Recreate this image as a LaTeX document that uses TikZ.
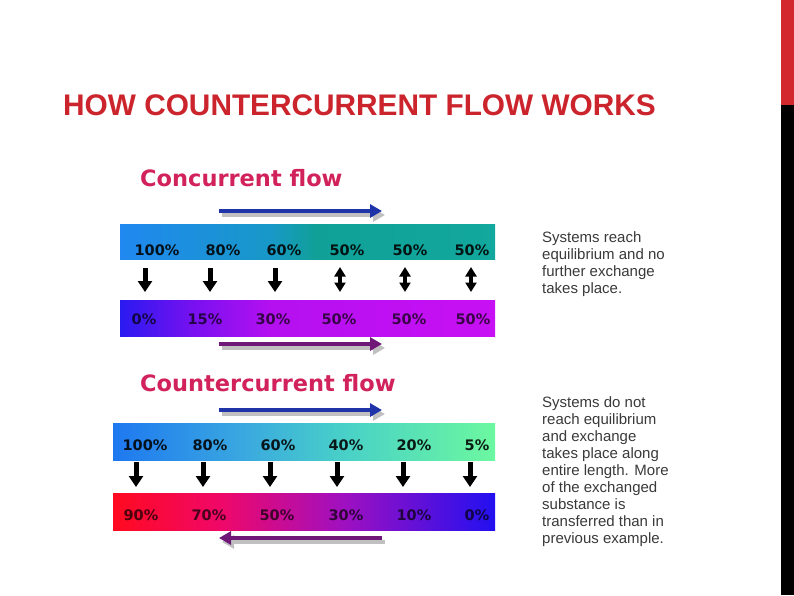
\documentclass[tikz,border=0pt]{standalone}
\usepackage{fontspec}
\setmainfont{Liberation Sans}
\newfontfamily\roundfont{DejaVu Sans}
\usepackage{xcolor}
\usepackage{tikz}
\usetikzlibrary{arrows.meta}
\definecolor{titlered}{RGB}{204, 36, 44}
\definecolor{headpink}{RGB}{210, 34, 92}
\definecolor{notegray}{RGB}{58, 58, 58}
\definecolor{flowblue}{RGB}{30, 52, 168}
\definecolor{flowpurple}{RGB}{112, 24, 120}
\definecolor{shadegray}{RGB}{192, 192, 192}
\definecolor{edgered}{RGB}{210, 40, 46}
% bar colours
\definecolor{ctA}{RGB}{32, 136, 240}
\definecolor{ctB}{RGB}{24, 152, 200}
\definecolor{ctC}{RGB}{16, 160, 152}
\definecolor{ctD}{RGB}{18, 168, 158}
\definecolor{cbA}{RGB}{42, 26, 240}
\definecolor{cbB}{RGB}{122, 16, 240}
\definecolor{cbC}{RGB}{180, 16, 240}
\definecolor{cbD}{RGB}{200, 16, 244}
\definecolor{xtA}{RGB}{30, 120, 240}
\definecolor{xtB}{RGB}{58, 168, 224}
\definecolor{xtC}{RGB}{72, 208, 200}
\definecolor{xtD}{RGB}{108, 248, 160}
\definecolor{xbA}{RGB}{255, 10, 32}
\definecolor{xbB}{RGB}{240, 8, 104}
\definecolor{xbC}{RGB}{160, 16, 192}
\definecolor{xbD}{RGB}{34, 16, 240}
\pgfdeclarehorizontalshading{concurtop}{100bp}{color(0bp)=(ctA); color(25bp)=(ctA); color(45bp)=(ctB); color(51bp)=(ctC); color(75bp)=(ctD); color(100bp)=(ctD)}
\pgfdeclarehorizontalshading{concurbot}{100bp}{color(0bp)=(cbA); color(25bp)=(cbA); color(35bp)=(cbB); color(45bp)=(cbC); color(75bp)=(cbD); color(100bp)=(cbD)}
\pgfdeclarehorizontalshading{countertop}{100bp}{color(0bp)=(xtA); color(25bp)=(xtA); color(42bp)=(xtB); color(55bp)=(xtC); color(75bp)=(xtD); color(100bp)=(xtD)}
\pgfdeclarehorizontalshading{counterbot}{100bp}{color(0bp)=(xbA); color(25bp)=(xbA); color(39bp)=(xbB); color(55bp)=(xbC); color(75bp)=(xbD); color(100bp)=(xbD)}

\begin{document}
\begin{tikzpicture}[x=1pt, y=-1pt,
    bar/.style={rectangle, inner sep=0pt, shade, minimum width=375pt, minimum height=35pt},
    pct/.style={inner sep=0pt, font=\roundfont\bfseries\fontsize{14.5}{15}\selectfont, text=black, text opacity=0.88},
    pctlow/.style={pct, text opacity=0.7},
    heading/.style={anchor=base west, inner sep=0pt, font=\roundfont\bfseries\fontsize{22.5}{24}\selectfont, text=headpink},
    note/.style={anchor=north west, inner sep=0pt, align=left, font=\fontsize{15}{17}\selectfont, text=notegray},
    drop/.style={draw=black, line width=5pt, -{Triangle[length=11pt, width=14pt]}},
    swap/.style={draw=black, line width=3.5pt, {Triangle[length=9.5pt, width=11pt]}-{Triangle[length=9.5pt, width=11pt]}},
    flow/.style={line width=4.5pt, -{Triangle[length=12pt, width=13pt]}},
    flowshade/.style={flow, draw=shadegray}]

    \useasboundingbox (0,0) rectangle (794,595);
    \fill[white] (0,0) rectangle (794,595);
    \fill[edgered] (781,0) rectangle (794,105);
    \fill[black] (781,105) rectangle (794,595);

    \node [anchor=base west, inner sep=0pt, font=\bfseries\fontsize{29.8}{31}\selectfont, text=titlered] (title) at (63,115) {HOW COUNTERCURRENT FLOW WORKS};

    % concurrent
    \node [heading] (conchead) at (140,186) {Concurrent flow};
    \node [bar, shading=concurtop] (conctop) at (307.5,241.5) {};
    \node [bar, shading=concurbot, minimum height=36pt] (concbot) at (307.5,318) {};

    \node [pct] (ct1) at (157,250) {100\%};
    \node [pct] (ct2) at (223,250) {80\%};
    \node [pct] (ct3) at (284,250) {60\%};
    \node [pct] (ct4) at (347,250) {50\%};
    \node [pct] (ct5) at (410,250) {50\%};
    \node [pct] (ct6) at (472,250) {50\%};
    \node [pctlow] (cb1) at (144,319) {0\%};
    \node [pctlow] (cb2) at (205,319) {15\%};
    \node [pctlow] (cb3) at (273,319) {30\%};
    \node [pctlow] (cb4) at (339,319) {50\%};
    \node [pctlow] (cb5) at (409,319) {50\%};
    \node [pctlow] (cb6) at (473,319) {50\%};

    \coordinate (cu1) at (145,268); \coordinate (cd1) at (145,292);
    \coordinate (cu2) at (210,268); \coordinate (cd2) at (210,292);
    \coordinate (cu3) at (275,268); \coordinate (cd3) at (275,292);
    \coordinate (cu4) at (340,267); \coordinate (cd4) at (340,292);
    \coordinate (cu5) at (405,267); \coordinate (cd5) at (405,292);
    \coordinate (cu6) at (471,267); \coordinate (cd6) at (471,292);

    \path [drop] (cu1) -- (cd1);
    \path [drop] (cu2) -- (cd2);
    \path [drop] (cu3) -- (cd3);
    \path [swap] (cu4) -- (cd4);
    \path [swap] (cu5) -- (cd5);
    \path [swap] (cu6) -- (cd6);

    \coordinate (cinS) at (219,211); \coordinate (cinE) at (382,211);
    \coordinate (coutS) at (219,344); \coordinate (coutE) at (382,344);
    \path [flowshade] ([shift={(3,4)}]cinS) -- ([shift={(3,4)}]cinE);
    \path [flow, draw=flowblue] (cinS) -- (cinE);
    \path [flowshade] ([shift={(3,4)}]coutS) -- ([shift={(3,4)}]coutE);
    \path [flow, draw=flowpurple] (coutS) -- (coutE);

    \node [note] (concnote) at (542,231) {Systems reach\\ equilibrium and no\\ further exchange\\ takes place.};

    % countercurrent
    \node [heading] (counthead) at (140,391) {Countercurrent flow};
    \node [bar, shading=countertop, minimum width=382pt, minimum height=37pt] (counttop) at (304,441.5) {};
    \node [bar, shading=counterbot, minimum width=382pt, minimum height=37pt] (countbot) at (304,511.5) {};

    \node [pct] (xt1) at (145,445) {100\%};
    \node [pct] (xt2) at (210,445) {80\%};
    \node [pct] (xt3) at (278,445) {60\%};
    \node [pct] (xt4) at (346,445) {40\%};
    \node [pct] (xt5) at (414,445) {20\%};
    \node [pct] (xt6) at (477,445) {5\%};
    \node [pctlow] (xb1) at (141,515) {90\%};
    \node [pctlow] (xb2) at (209,515) {70\%};
    \node [pctlow] (xb3) at (277,515) {50\%};
    \node [pctlow] (xb4) at (346,515) {30\%};
    \node [pctlow] (xb5) at (414,515) {10\%};
    \node [pctlow] (xb6) at (477,515) {0\%};

    \coordinate (xu1) at (136,462); \coordinate (xd1) at (136,487);
    \coordinate (xu2) at (203,462); \coordinate (xd2) at (203,487);
    \coordinate (xu3) at (270,462); \coordinate (xd3) at (270,487);
    \coordinate (xu4) at (337,462); \coordinate (xd4) at (337,487);
    \coordinate (xu5) at (403,462); \coordinate (xd5) at (403,487);
    \coordinate (xu6) at (470,462); \coordinate (xd6) at (470,487);

    \path [drop] (xu1) -- (xd1);
    \path [drop] (xu2) -- (xd2);
    \path [drop] (xu3) -- (xd3);
    \path [drop] (xu4) -- (xd4);
    \path [drop] (xu5) -- (xd5);
    \path [drop] (xu6) -- (xd6);

    \coordinate (xinS) at (219,410); \coordinate (xinE) at (382,410);
    \coordinate (xoutS) at (382,538); \coordinate (xoutE) at (219,538);
    \path [flowshade] ([shift={(3,4)}]xinS) -- ([shift={(3,4)}]xinE);
    \path [flow, draw=flowblue] (xinS) -- (xinE);
    \path [flowshade] ([shift={(3,4)}]xoutS) -- ([shift={(3,4)}]xoutE);
    \path [flow, draw=flowpurple] (xoutS) -- (xoutE);

    \node [note] (countnote) at (542,396) {Systems do not\\ reach equilibrium\\ and exchange\\ takes place along\\ entire length. More\\ of the exchanged\\ substance is\\ transferred than in\\ previous example.};
\end{tikzpicture}
\end{document}
